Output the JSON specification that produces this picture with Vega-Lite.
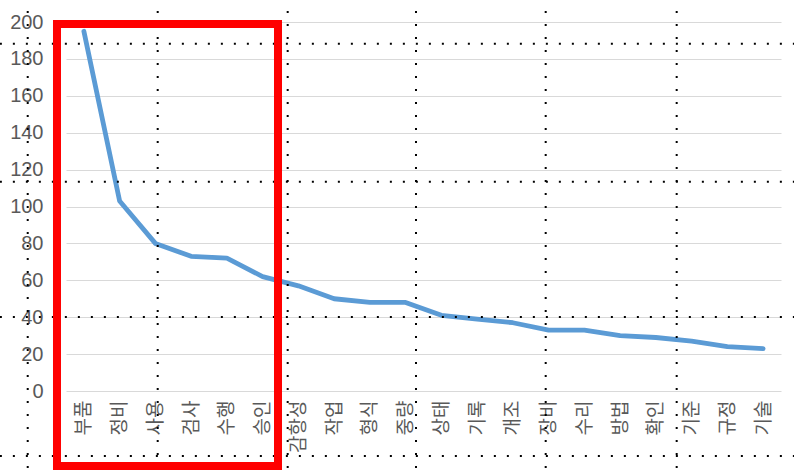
{
  "$schema": "https://vega.github.io/schema/vega-lite/v6.json",
  "width": 715,
  "height": 369,
  "autosize": {"type": "none"},
  "padding": {"left": 66, "top": 22, "right": 13, "bottom": 82},
  "background": "white",
  "config": {"view": {"stroke": null}},
  "datasets": {
    "terms": [
      {"term": "부품", "count": 195},
      {"term": "정비", "count": 103},
      {"term": "사용", "count": 80},
      {"term": "검사", "count": 73},
      {"term": "수행", "count": 72},
      {"term": "승인", "count": 62},
      {"term": "감항성", "count": 57},
      {"term": "작업", "count": 50},
      {"term": "형식", "count": 48},
      {"term": "중량", "count": 48},
      {"term": "상태", "count": 41},
      {"term": "기록", "count": 39},
      {"term": "개조", "count": 37},
      {"term": "장비", "count": 33},
      {"term": "수리", "count": 33},
      {"term": "방법", "count": 30},
      {"term": "확인", "count": 29},
      {"term": "기준", "count": 27},
      {"term": "규정", "count": 24},
      {"term": "기술", "count": 23}
    ],
    "hdots": [
      {"y": 188.2, "x": -1.85, "x2": 20.4},
      {"y": 113.4, "x": -1.85, "x2": 20.4},
      {"y": 40.1, "x": -1.85, "x2": 20.4},
      {"y": -35.2, "x": -1.85, "x2": 20.4}
    ],
    "vdots": [
      {"x": -1.071, "y": 213, "y2": -45},
      {"x": 2.565, "y": 213, "y2": -45},
      {"x": 6.201, "y": 213, "y2": -45},
      {"x": 9.79, "y": 213, "y2": -45},
      {"x": 13.418, "y": 213, "y2": -45},
      {"x": 17.082, "y": 213, "y2": -45}
    ],
    "box": [
      {"x": -0.252, "x2": 5.93, "y": 198.9, "y2": -40.7}
    ]
  },
  "layer": [
    {
      "data": {"name": "terms"},
      "mark": {"type": "line", "color": "#5B9BD5", "strokeWidth": 4.8, "strokeJoin": "round", "strokeCap": "round", "clip": false},
      "encoding": {
        "x": {
          "field": "term",
          "type": "nominal",
          "sort": null,
          "axis": {
            "title": null,
            "labelAngle": -90,
            "labelAlign": "right",
            "labelBaseline": "middle",
            "labelPadding": 9,
            "labelFont": "Noto Sans CJK KR",
            "labelFontSize": 19,
            "labelColor": "#595959",
            "domain": false,
            "ticks": false,
            "grid": false,
            "labelOverlap": false,
            "labelLimit": 300
          }
        },
        "y": {
          "field": "count",
          "type": "quantitative",
          "scale": {"domain": [0, 200], "nice": false},
          "axis": {
            "title": null,
            "values": [0, 20, 40, 60, 80, 100, 120, 140, 160, 180, 200],
            "grid": true,
            "gridColor": "#D9D9D9",
            "gridWidth": 1.2,
            "domain": false,
            "ticks": false,
            "labelPadding": 23,
            "labelOverlap": false,
            "labelFont": "Liberation Sans",
            "labelFontSize": 20,
            "labelColor": "#595959"
          }
        }
      }
    },
    {
      "layer": [
        {
          "data": {"name": "hdots"},
          "mark": {"type": "rule", "color": "#000000", "strokeWidth": 2, "strokeDash": [2, 11], "clip": false},
          "encoding": {
            "x": {"field": "x", "type": "quantitative", "scale": {"domain": [0, 20], "nice": false, "zero": false}, "axis": null},
            "x2": {"field": "x2"},
            "y": {"field": "y", "type": "quantitative", "scale": {"domain": [0, 200], "nice": false}, "axis": null}
          }
        },
        {
          "data": {"name": "vdots"},
          "mark": {"type": "rule", "color": "#000000", "strokeWidth": 2, "strokeDash": [2, 11], "clip": false},
          "encoding": {
            "x": {"field": "x", "type": "quantitative", "scale": {"domain": [0, 20], "nice": false, "zero": false}, "axis": null},
            "y": {"field": "y", "type": "quantitative", "scale": {"domain": [0, 200], "nice": false}, "axis": null},
            "y2": {"field": "y2"}
          }
        },
        {
          "data": {"name": "box"},
          "mark": {"type": "rect", "filled": false, "stroke": "#FF0000", "strokeWidth": 8, "clip": false},
          "encoding": {
            "x": {"field": "x", "type": "quantitative", "scale": {"domain": [0, 20], "nice": false, "zero": false}, "axis": null},
            "x2": {"field": "x2"},
            "y": {"field": "y", "type": "quantitative", "scale": {"domain": [0, 200], "nice": false}, "axis": null},
            "y2": {"field": "y2"}
          }
        }
      ]
    }
  ],
  "resolve": {"scale": {"x": "independent", "y": "independent"}, "axis": {"y": "independent"}}
}
